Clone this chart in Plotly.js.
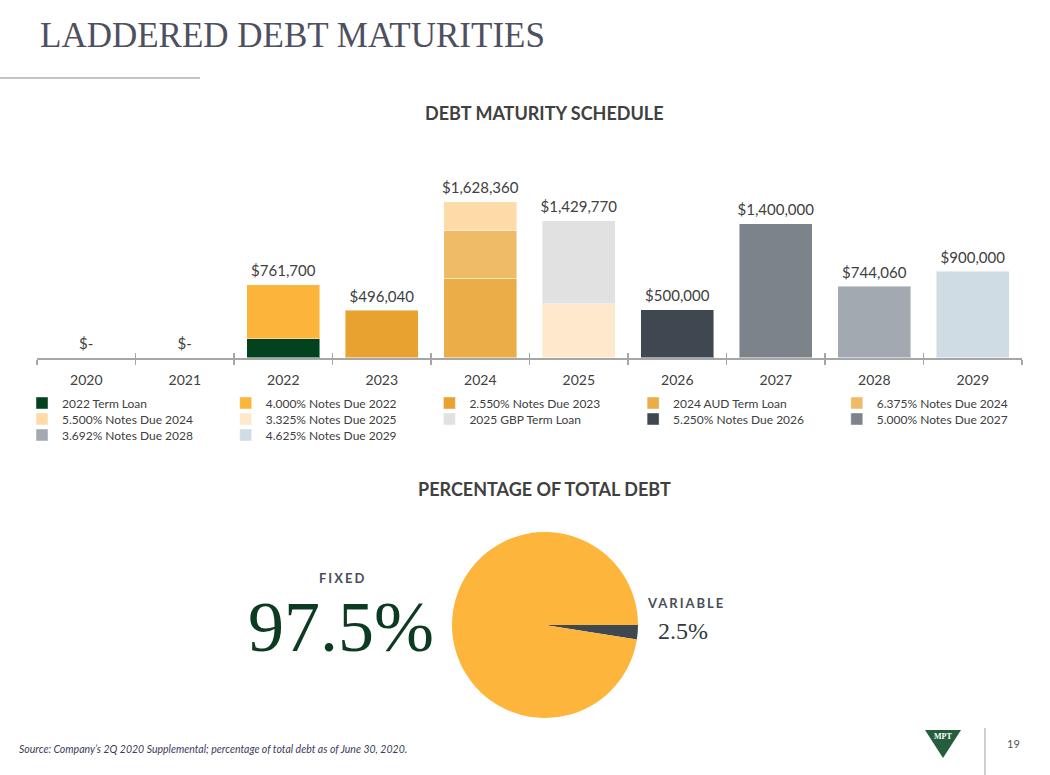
<!DOCTYPE html>
<html>
<head>
<meta charset="utf-8">
<script src="https://cdn.plot.ly/plotly-3.0.1.min.js"></script>
<style>html,body{margin:0;padding:0;background:#fff;}#chart{width:1050px;height:775px;}</style>
</head>
<body>
<div id="chart"></div>
<script>
// ---- data ----
const years = ['2020','2021','2022','2023','2024','2025','2026','2027','2028','2029'];
const seriesNames = ['2022 Term Loan','4.000% Notes Due 2022','2.550% Notes Due 2023','2024 AUD Term Loan','6.375% Notes Due 2024',
  '5.500% Notes Due 2024','3.325% Notes Due 2025','2025 GBP Term Loan','5.250% Notes Due 2026','5.000% Notes Due 2027',
  '3.692% Notes Due 2028','4.625% Notes Due 2029'];
const seriesYears = ['2022','2022','2023','2024','2024','2024','2025','2025','2026','2027','2028','2029'];
const seriesAmounts = [200000, 561700, 496040, 828360, 500000, 300000, 561700, 868070, 500000, 1400000, 744060, 900000];
const seriesColors = ['#03421F','#FDB43A','#E8A230','#EAAD47','#F0BB66','#FEDBA8','#FEE9CC','#E1E1E1','#3F4850','#7D838A','#A2A9B0','#D0DCE4'];
const pieLabels = ['Variable','Fixed'];
const pieValues = [2.5, 97.5];
const pieColors = ['#3F4750','#FDB53B'];

// ---- helpers ----
const W = 1050, H = 775;
const px = x => x / W;
const py = y => 1 - y / H;
const totals = years.map(y => seriesAmounts.reduce((s, v, i) => s + (seriesYears[i] === y ? v : 0), 0));
const fmt = v => v > 0 ? '$' + v.toLocaleString('en-US') : '$-';

const FONT = 'Lato, "Open Sans", sans-serif';
const SERIF = '"Liberation Serif", "DejaVu Serif", serif';
const TXT = '#404040';

const traces = [];
// totals labels (first so category order is set on x)
traces.push({
  type: 'scatter', x: years, y: totals, mode: 'markers+text',
  text: totals.map(fmt), textposition: 'top center',
  textfont: {family: FONT, size: 15, color: TXT},
  marker: {size: 6, opacity: 0}, showlegend: false, hoverinfo: 'skip', cliponaxis: false,
  xaxis: 'x', yaxis: 'y'
});
seriesNames.forEach((name, i) => {
  const row = Math.floor(i / 5);
  traces.push({
    type: 'bar', name: name, x: [seriesYears[i]], y: [seriesAmounts[i]],
    marker: {color: seriesColors[i], line: {width: 1, color: 'rgba(255,255,255,0.45)'}},
    legend: row === 0 ? 'legend' : 'legend' + (row + 1),
    hoverinfo: 'skip', xaxis: 'x', yaxis: 'y'
  });
});
// invisible trace giving overlay axis its categories
traces.push({type: 'scatter', x: years, y: totals, mode: 'none', showlegend: false, hoverinfo: 'skip', xaxis: 'x2', yaxis: 'y'});
// pie
traces.push({
  type: 'pie', labels: pieLabels, values: pieValues, sort: false,
  direction: 'counterclockwise', rotation: 90,
  marker: {colors: pieColors, line: {width: 0}},
  textinfo: 'none', hoverinfo: 'skip', showlegend: false,
  domain: {x: [px(452), px(638)], y: [py(718), py(532)]}
});

const legendBase = {
  orientation: 'h', xanchor: 'left', yanchor: 'middle', x: px(22),
  font: {family: FONT, size: 12, color: TXT}, bgcolor: 'rgba(0,0,0,0)', borderwidth: 0,
  entrywidth: 158.7, entrywidthmode: 'pixels', traceorder: 'normal'
};

const axisCommon = {
  type: 'category', categoryorder: 'array', categoryarray: years, range: [-0.5, 9.5],
  domain: [px(37), px(1022)], tickson: 'boundaries', showgrid: false, zeroline: false,
  tickcolor: '#A6A6A6', tickwidth: 1.5, ticklen: 5, fixedrange: true
};

function ann(text, x, y, font, extra) {
  return Object.assign({text: text, x: px(x), y: py(y), xref: 'paper', yref: 'paper',
    xanchor: 'center', yanchor: 'middle', showarrow: false, font: font}, extra || {});
}

const layout = {
  width: W, height: H, margin: {l: 0, r: 0, t: 0, b: 0},
  paper_bgcolor: '#fff', plot_bgcolor: 'rgba(0,0,0,0)',
  barmode: 'stack', bargap: 0.256, hovermode: false,
  title: {text: 'LADDERED DEBT MATURITIES', x: px(40), xanchor: 'left', y: py(35), yanchor: 'middle',
    font: {family: SERIF, size: 35, color: '#4E5060'}},
  xaxis: Object.assign({}, axisCommon, {
    anchor: 'y', showline: true, linecolor: '#A6A6A6', linewidth: 2, ticks: 'outside',
    tickfont: {family: FONT, size: 14, color: TXT}, ticklabelstandoff: 8
  }),
  xaxis2: Object.assign({}, axisCommon, {
    overlaying: 'x', anchor: 'y', ticks: 'inside', showticklabels: false, showline: false
  }),
  yaxis: {domain: [py(357.7), py(160)], range: [0, 2063000], visible: false, fixedrange: true},
  legend: Object.assign({}, legendBase, {y: py(403)}),
  legend2: Object.assign({}, legendBase, {y: py(419)}),
  legend3: Object.assign({}, legendBase, {y: py(435)}),
  annotations: [
    ann('<b>DEBT MATURITY SCHEDULE</b>', 544, 113, {family: FONT, size: 18, color: TXT}),
    ann('<b>PERCENTAGE OF TOTAL DEBT</b>', 544, 489, {family: FONT, size: 18, color: TXT}),
    ann('<b><span style="letter-spacing:2px">FIXED</span></b>', 342, 578, {family: FONT, size: 13, color: '#4A4E58'}),
    ann(pieValues[1] + '%', 341, 627, {family: SERIF, size: 72, color: '#0D3B22'}, {height: 62, valign: 'middle'}),
    ann('<b><span style="letter-spacing:2px">VARIABLE</span></b>', 686, 603, {family: FONT, size: 13, color: '#4A4E58'}),
    ann(pieValues[0] + '%', 683, 631, {family: SERIF, size: 24, color: '#2F3A40'}),
    ann('<i>Source: Company\u2019s 2Q 2020 Supplemental; percentage of total debt as of June 30, 2020.</i>', 17, 749,
      {family: FONT, size: 10.5, color: '#3C3C5A'}, {xanchor: 'left'}),
    ann('<b>MPT</b>', 943, 736, {family: SERIF, size: 8, color: '#FFFFFF'}),
    ann('19', 1013, 743, {family: FONT, size: 11, color: '#555555'})
  ],
  shapes: [
    {type: 'line', xref: 'paper', yref: 'paper', x0: 0, x1: px(200), y0: py(78), y1: py(78), line: {color: '#B0B0B0', width: 1.5}},
    {type: 'path', xref: 'paper', yref: 'paper',
      path: 'M' + px(925) + ',' + py(730) + ' L' + px(961) + ',' + py(730) + ' L' + px(943) + ',' + py(758) + ' Z',
      fillcolor: '#255E3C', line: {width: 0}},
    {type: 'line', xref: 'paper', yref: 'paper', x0: px(985), x1: px(985), y0: py(728), y1: 0, line: {color: '#A0A0A0', width: 1}}
  ]
};

Plotly.newPlot('chart', traces, layout, {displayModeBar: false, staticPlot: true});
</script>
</body>
</html>
